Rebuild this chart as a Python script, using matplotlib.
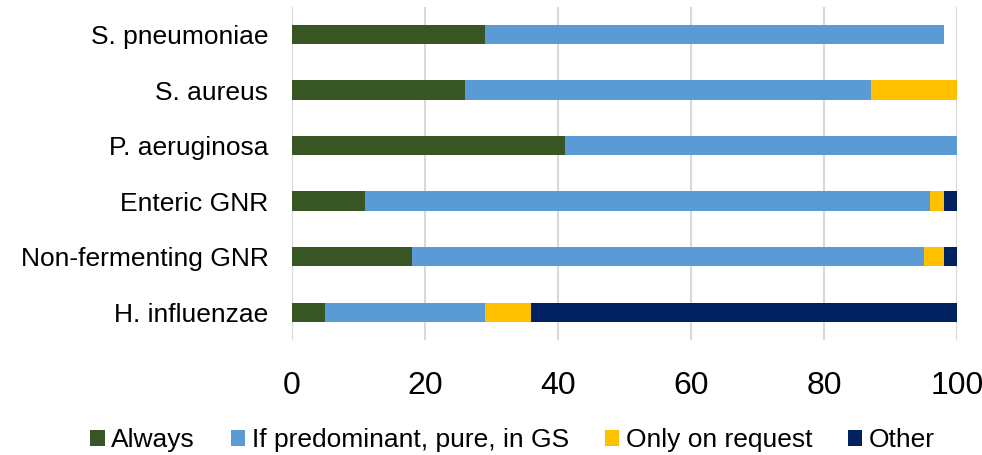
import matplotlib
matplotlib.use("Agg")
import matplotlib.pyplot as plt
from matplotlib.patches import Patch
import numpy as np

plt.rcParams['font.family'] = ['Liberation Sans', 'DejaVu Sans']

categories = ["S. pneumoniae", "S. aureus", "P. aeruginosa", "Enteric GNR",
              "Non-fermenting GNR", "H. influenzae"]
series_names = ["Always", "If predominant, pure, in GS", "Only on request", "Other"]
always = [29, 26, 41, 11, 18, 5]
predominant = [69, 61, 59, 85, 77, 24]
on_request = [0, 13, 0, 2, 3, 7]
other = [0, 0, 0, 2, 2, 64]
colors = ["#375623", "#5B9BD5", "#FFC000", "#002060"]

fig = plt.figure(figsize=(9.82, 4.55), dpi=100)
ax = fig.add_axes([292/982, 1-340/455, (957-292)/982, (340-6.7)/455])

y = np.arange(len(categories))
left = np.zeros(len(categories))
for vals, col, name in zip([always, predominant, on_request, other], colors, series_names):
    ax.barh(y, vals, left=left, height=0.35, color=col, label=name, zorder=3)
    left += np.array(vals)

ax.set_xlim(0, 100)
ax.set_ylim(len(categories) - 0.5, -0.5)
ax.set_yticks(y)
ax.set_yticklabels(categories, fontsize=19)
ax.set_xticks([0, 20, 40, 60, 80, 100])
ax.tick_params(axis='x', labelsize=23, length=0, pad=22)
ax.tick_params(axis='y', length=0, pad=17)
ax.grid(axis='x', color='#D9D9D9', linewidth=1.5, zorder=0)
for s in ax.spines.values():
    s.set_visible(False)

handles = [Patch(facecolor=c, edgecolor='none') for c in colors]
fig.legend(handles, series_names, loc='center', bbox_to_anchor=(0.522, 0.033), ncol=4,
           frameon=False, fontsize=19, handlelength=0.55, handleheight=0.55,
           handletextpad=0.25, columnspacing=1.35, borderaxespad=0)

fig.savefig("out.png", dpi=100)
